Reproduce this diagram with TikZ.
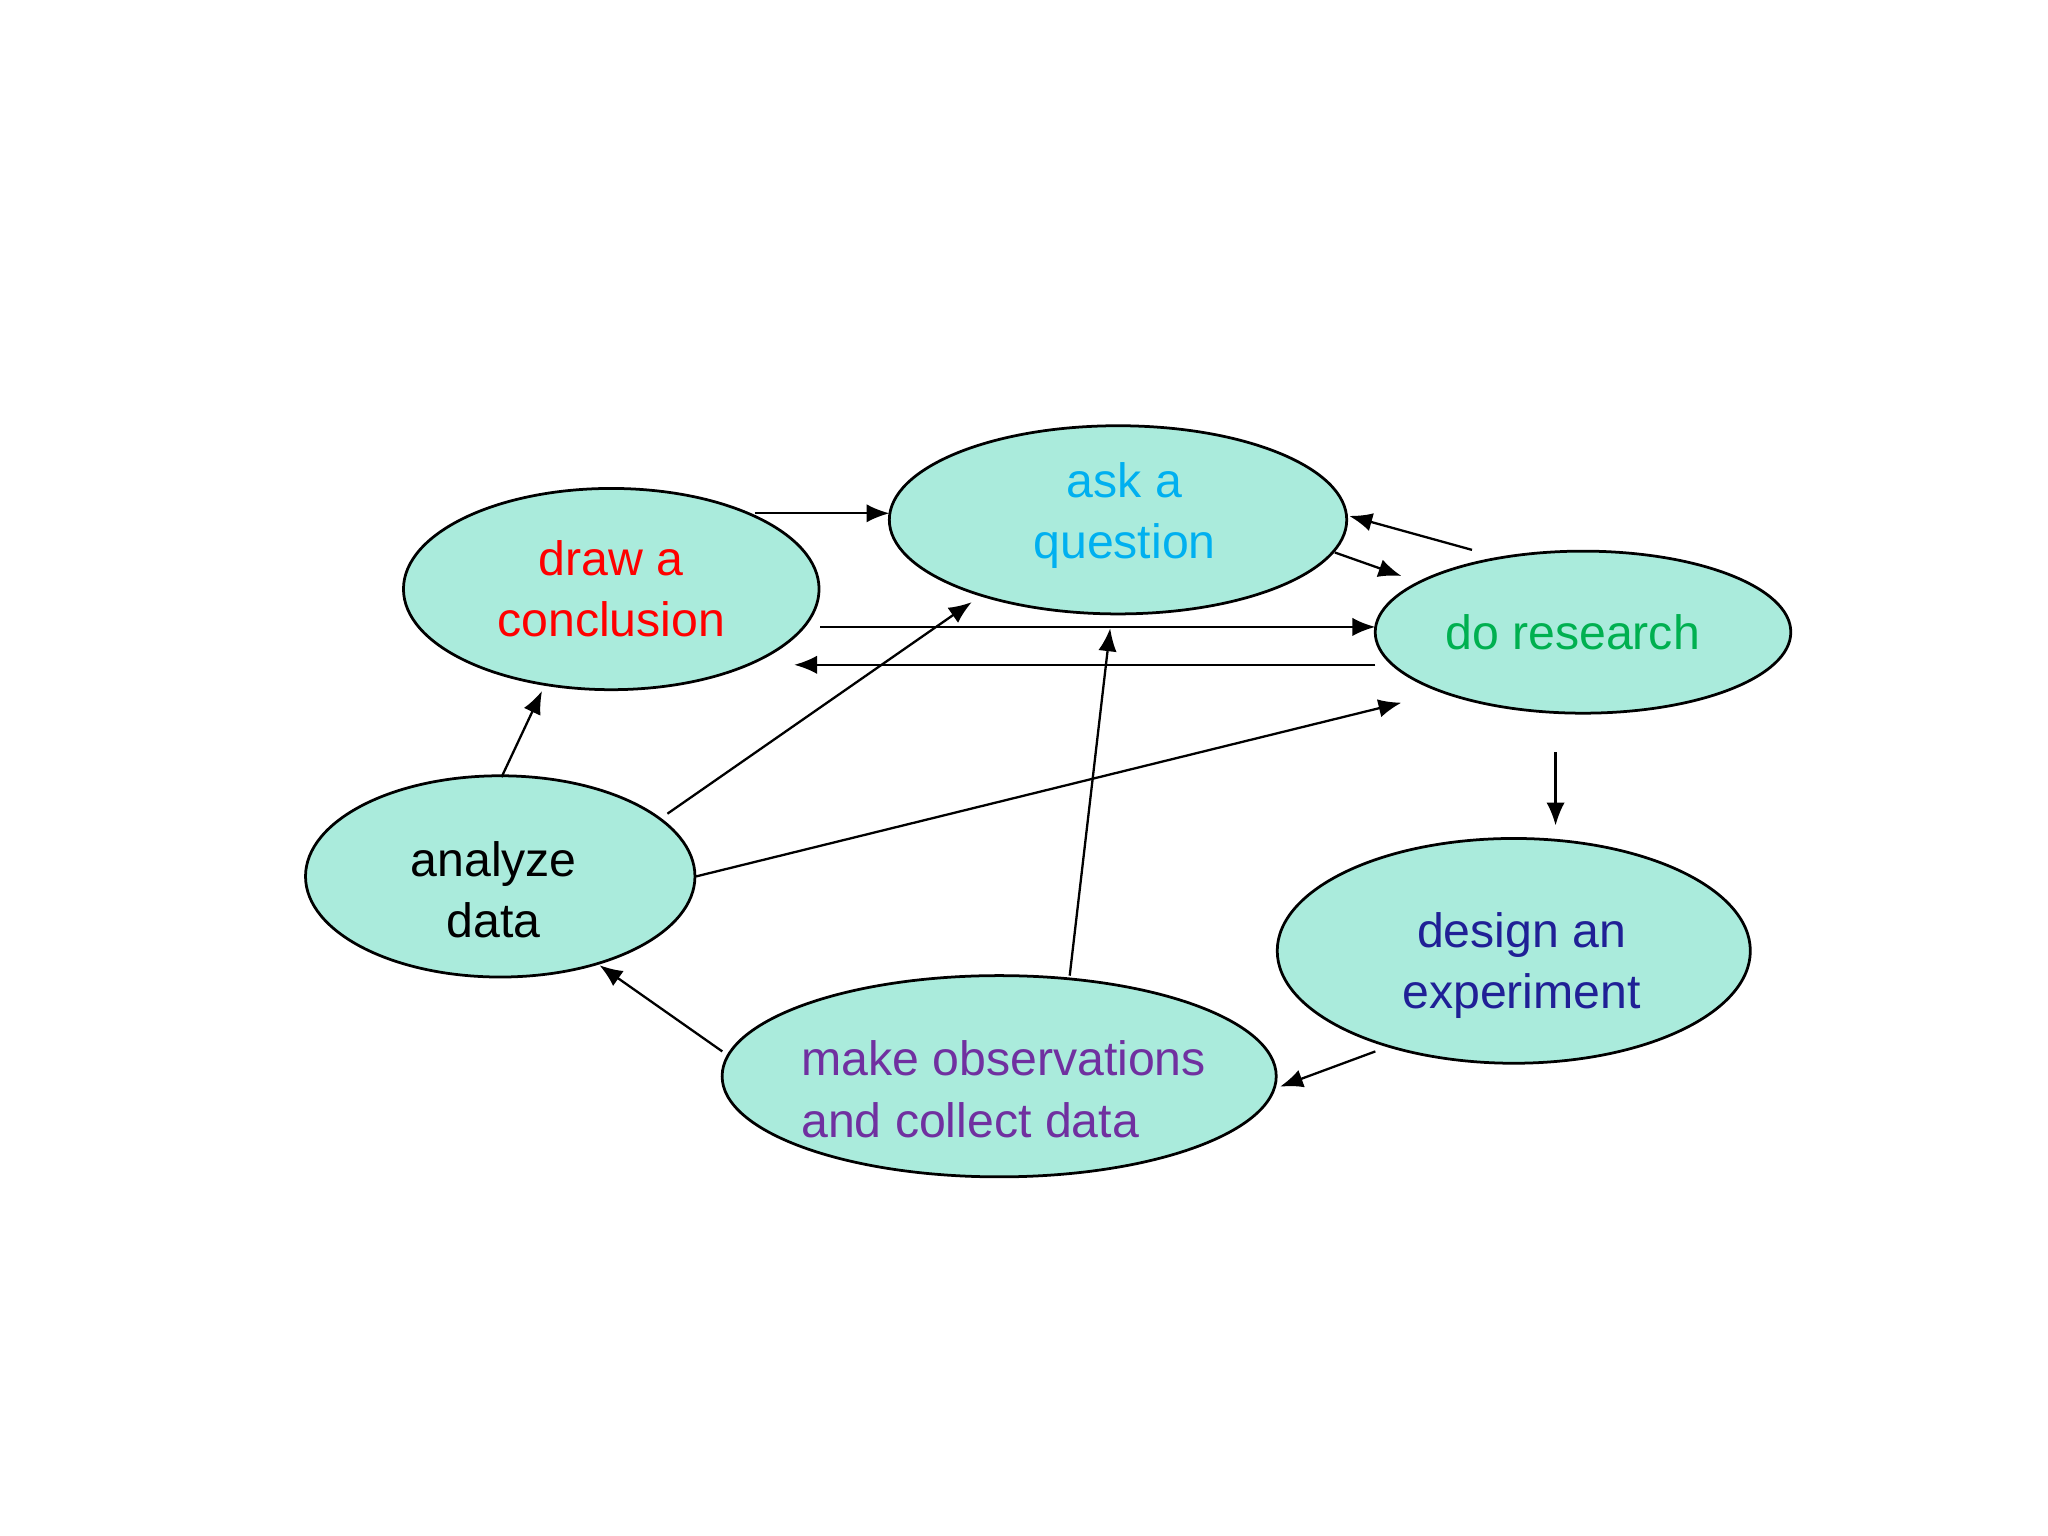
\documentclass[tikz,border=0pt]{standalone}
\usepackage{fontspec}
\setmainfont{Liberation Sans}
\usetikzlibrary{shapes.geometric,arrows.meta}
\definecolor{fillc}{RGB}{170,235,220}
\definecolor{cq}{RGB}{0,176,240}
\definecolor{cr}{RGB}{0,176,80}
\definecolor{cd}{RGB}{32,32,150}
\definecolor{cm}{RGB}{112,48,160}
\begin{document}
\begin{tikzpicture}[x=0.01cm,y=-0.01cm,
  bub/.style={ellipse,draw=black,fill=fillc,inner sep=0pt,line width=0.6pt},
  lbl/.style={font=\fontsize{10.5}{13.3}\selectfont,align=center},
  arr/.style={-{Latex[length=5pt,width=4pt]},line width=0.5pt}]
\useasboundingbox[fill=white] (0,0) rectangle (1568,1176);
\node[bub,minimum width=3.5cm,minimum height=1.44cm] (ask) at (856,398) {};
\node[bub,minimum width=3.18cm,minimum height=1.54cm] (draw) at (468,451) {};
\node[bub,minimum width=3.18cm,minimum height=1.24cm] (do) at (1212,484) {};
\node[bub,minimum width=2.98cm,minimum height=1.54cm] (ana) at (383,671) {};
\node[bub,minimum width=3.62cm,minimum height=1.72cm] (des) at (1159,728) {};
\node[bub,minimum width=4.24cm,minimum height=1.54cm] (obs) at (765,824) {};
\node[lbl,text=cq] (tq) at (861,395) {ask a\\question};
\node[lbl,text=red] (td) at (468,451) {draw a\\conclusion};
\node[lbl,text=cr] (tr) at (1204,484) {do research};
\node[lbl,text=black] (ta) at (378,681) {analyze\\data};
\node[lbl,text=cd] (te) at (1165,739) {design an\\experiment};
\node[lbl,text=cm,align=left,anchor=west] (to) at (601,834) {make observations\\and collect data};
\foreach \n/\x/\y in {a1/578/393,a2/681/393,b1/1127/421,b2/1033/395,c1/1022/423,c2/1073/441,
 d1/628/480,d2/1053/480,e1/1053/509,e2/608/509,f1/511/623,f2/744/461,g1/533/671,g2/1073/538,
 h1/384/595,h2/415/529,i1/819/747,i2/850/481,j1/553/805,j2/459/739,k1/1053/805,k2/980/832,
 l1/1191/576,l2/1191/632}
 \coordinate (\n) at (\x,\y);
\foreach \p in {a,b,c,d,e,f,g,h,i,j,k,l} \draw[arr] (\p1) -- (\p2);
\end{tikzpicture}
\end{document}
